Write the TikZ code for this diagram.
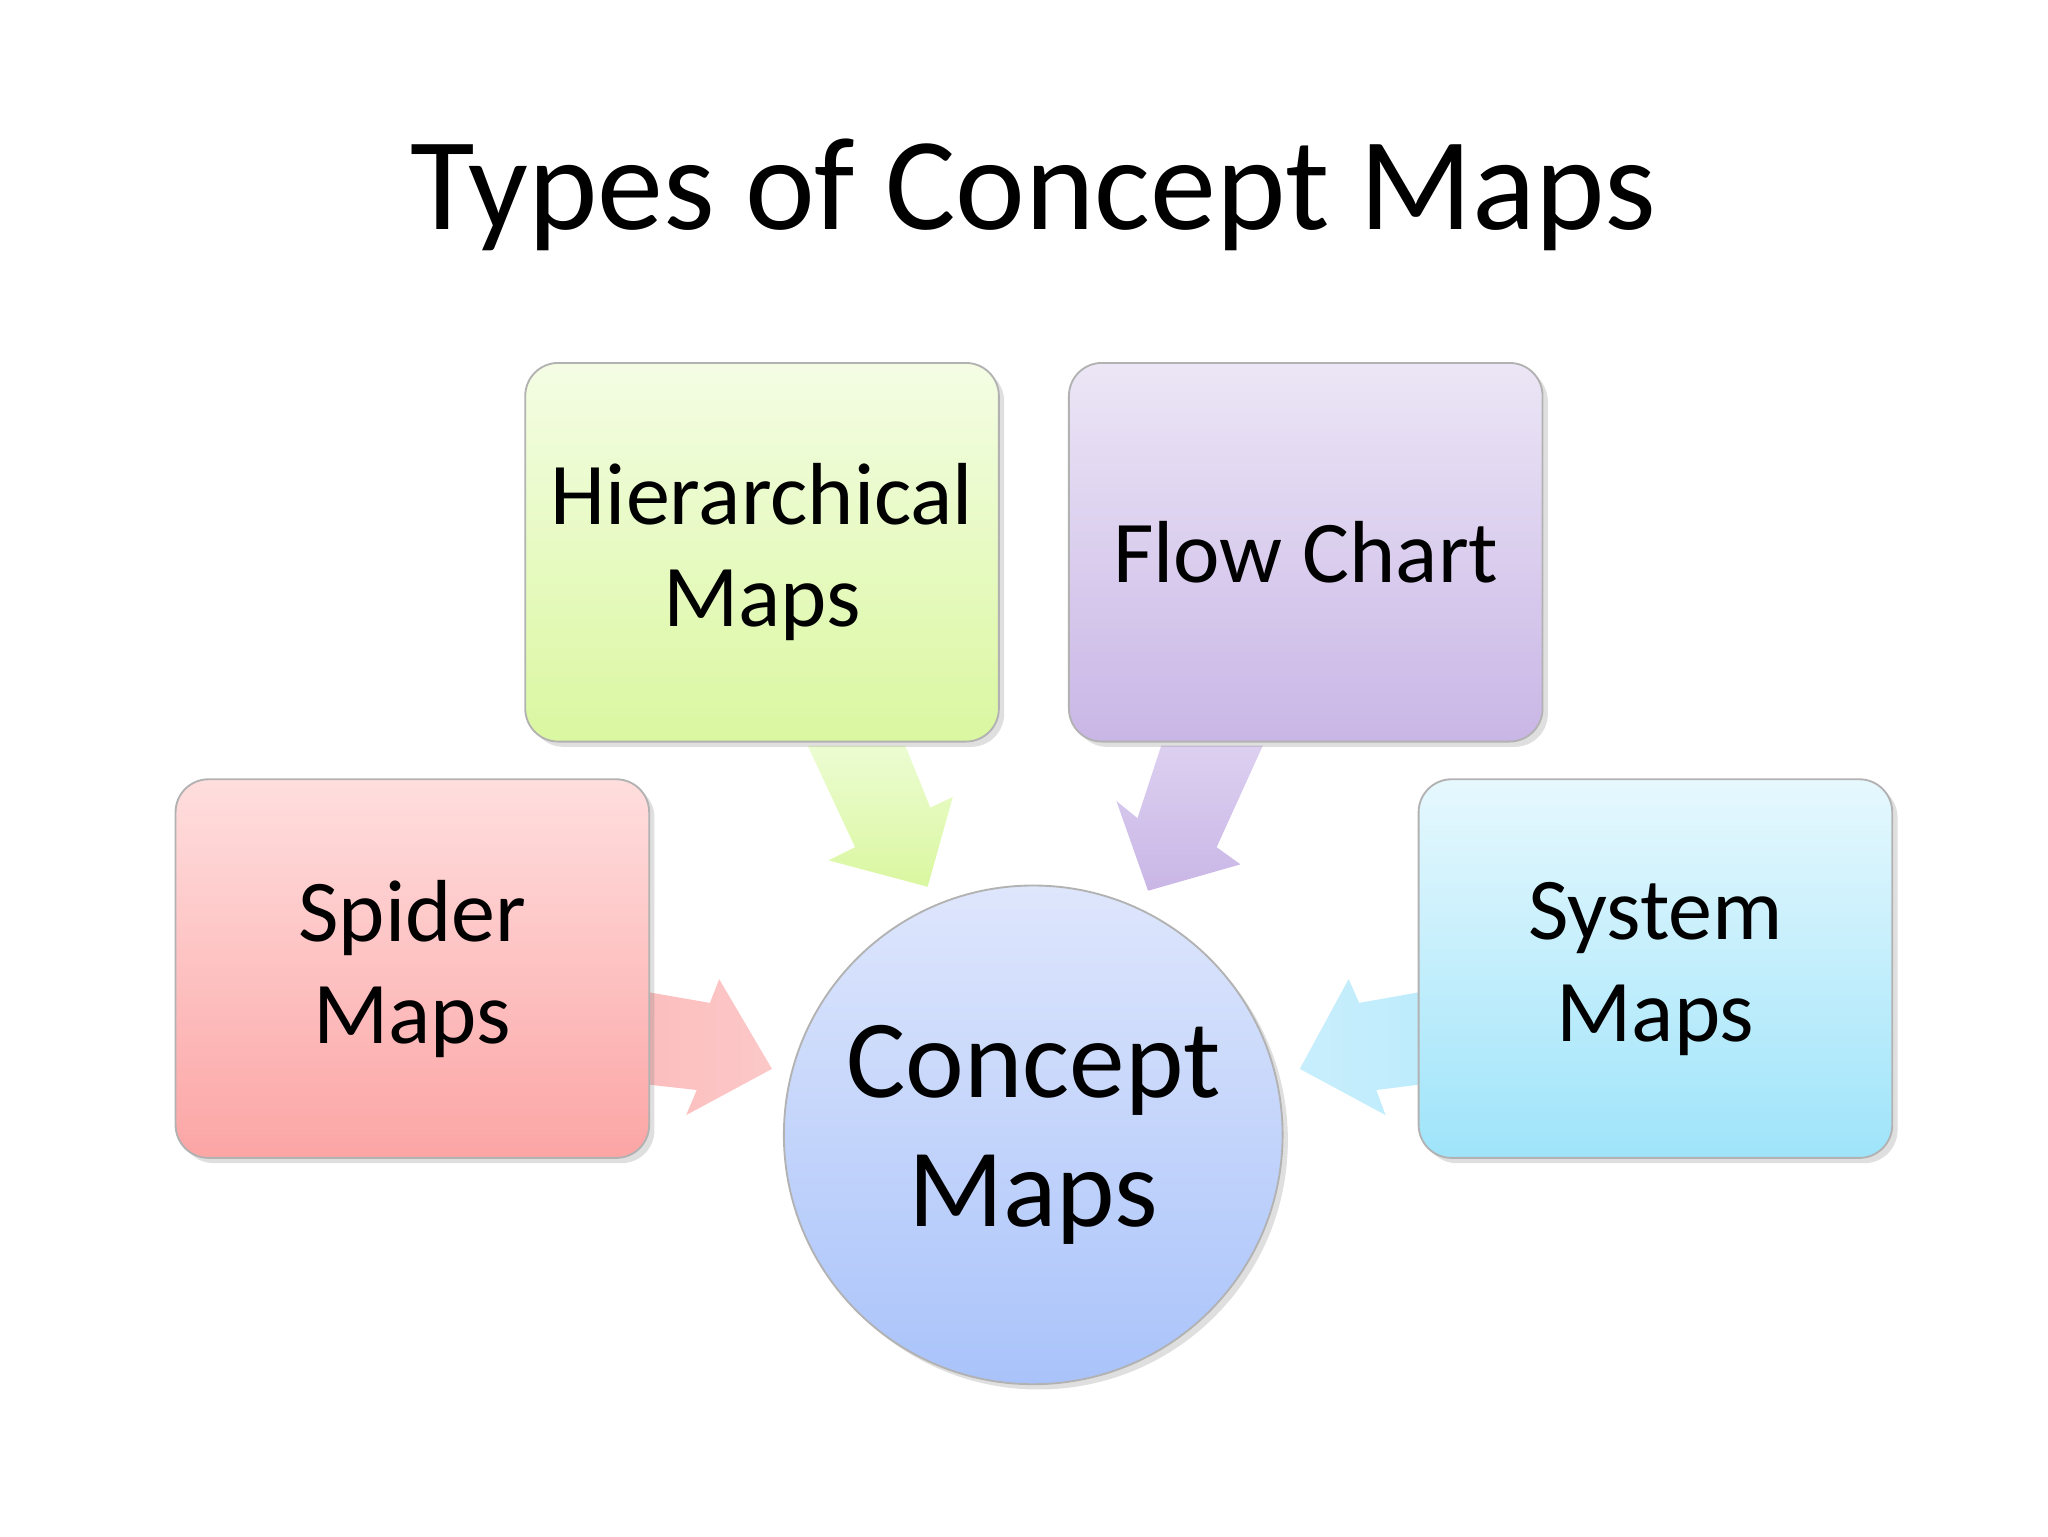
\documentclass[tikz,border=0pt]{standalone}
\usepackage{fontspec}
\setmainfont{Carlito}
\usetikzlibrary{shadows}
\begin{document}
\begin{tikzpicture}[x=0.02cm,y=-0.02cm,
  box/.style={draw=black!30,line width=0.8pt,rounded corners=0.5cm,minimum width=7.18cm,minimum height=5.74cm,align=center,font=\fontsize{38}{44}\selectfont,drop shadow={shadow xshift=0.08cm,shadow yshift=-0.08cm,opacity=0.25}}]
\useasboundingbox (0,0) rectangle (1552,1164);
\node (title) at (783,148) {\fontsize{57}{64}\selectfont Types of Concept Maps};
% arrows
\shade[top color={rgb,255:red,236;green,252;blue,210},bottom color={rgb,255:red,218;green,247;blue,160}]
 (612,565)--(686,565)--(705,612)--(722,604)--(703,672)--(628,652)--(648,642)--cycle;
\shade[top color={rgb,255:red,220;green,208;blue,240},bottom color={rgb,255:red,201;green,182;blue,230}]
 (880,565)--(957,565)--(922,642)--(940,655)--(870,675)--(846,607)--(862,620)--cycle;
\shade[left color={rgb,255:red,252;green,190;blue,190},right color={rgb,255:red,252;green,200;blue,200}]
 (492,752)--(538,760)--(545,742)--(585,810)--(520,845)--(528,826)--(492,822)--cycle;
\shade[right color={rgb,255:red,190;green,236;blue,252},left color={rgb,255:red,200;green,238;blue,252}]
 (1075,752)--(1030,760)--(1022,742)--(985,810)--(1050,845)--(1043,826)--(1075,822)--cycle;
% boxes
\node[box,top color={rgb,255:red,244;green,253;blue,228},bottom color={rgb,255:red,218;green,247;blue,160}] (hier) at (577.5,418.5) {Hierarchical\\Maps};
\node[box,top color={rgb,255:red,236;green,230;blue,246},bottom color={rgb,255:red,201;green,182;blue,230}] (flow) at (989.5,418.5) {Flow Chart};
\node[box,top color={rgb,255:red,255;green,222;blue,222},bottom color={rgb,255:red,252;green,165;blue,165}] (spider) at (312.5,734) {Spider\\Maps};
\node[box,top color={rgb,255:red,230;green,248;blue,254},bottom color={rgb,255:red,159;green,228;blue,250}] (system) at (1254.5,734) {System\\Maps};
\node[circle,draw=black!30,line width=0.8pt,minimum size=7.56cm,align=center,font=\fontsize{48}{56}\selectfont,top color={rgb,255:red,222;green,230;blue,252},bottom color={rgb,255:red,169;green,195;blue,250},drop shadow={shadow xshift=0.08cm,shadow yshift=-0.08cm,opacity=0.25}] (concept) at (783,860) {Concept\\Maps};
\end{tikzpicture}
\end{document}
